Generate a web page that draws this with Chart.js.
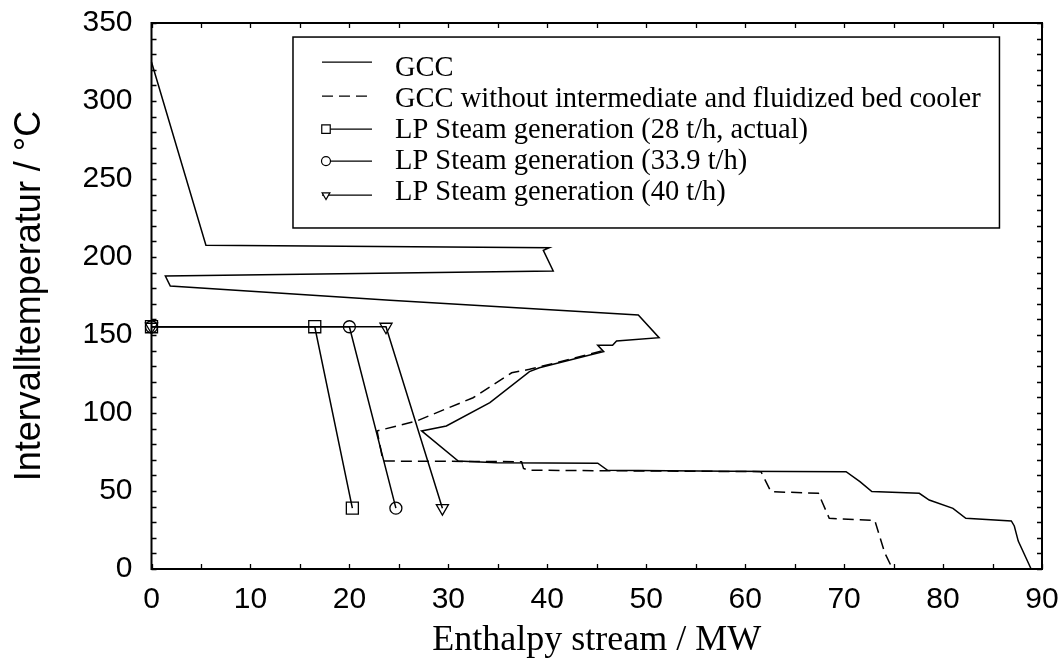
<!DOCTYPE html>
<html>
<head>
<meta charset="utf-8">
<title>GCC – LP steam generation</title>
<script src="https://cdn.jsdelivr.net/npm/chart.js@4.4.1/dist/chart.umd.min.js"></script>
<style>
  html, body { margin: 0; padding: 0; background: #fff; }
  #wrap { width: 1061px; height: 662px; }
</style>
</head>
<body>
<div id="wrap"><canvas id="gcc" width="1061" height="662"></canvas></div>
<script>
// Grand composite curve: enthalpy stream (MW) vs interval temperature (°C)
const gccH = [0, 5.5, 40.2, 39.6, 40.6, 1.4, 1.9, 24.1, 49.2, 51.3, 47.0, 46.6, 45.1, 45.7, 44.6, 39.2, 38.2,
              34.2, 29.8, 27.3, 31.0, 34.9, 45.1, 46.1, 58.4, 70.2, 71.6, 72.8, 77.6, 78.6, 81.0, 82.3,
              86.9, 87.2, 87.6, 88.9];
const gccT = [325, 207.5, 206, 204.3, 191, 187.8, 181.4, 172.2, 162.8, 148.3, 146.2, 143.4, 143.4, 139.3, 137.6, 129, 126.5,
              106.6, 91.7, 88.5, 69.2, 68.1, 67.8, 63.3, 62.6, 62.4, 56, 49.6, 48.5, 44.2, 38.9, 32.5,
              30.8, 27.6, 17.9, 0];

// GCC without intermediate and fluidized bed cooler (differs below ~140 °C)
const gccNoCoolH = [45.5, 41.6, 38.2, 36.4, 32.5, 26.8, 22.8, 23.4, 37.4, 37.6, 38.1, 61.6, 62.6, 67.4, 68.5, 73.1, 74.1, 74.9];
const gccNoCoolT = [139.8, 133.3, 128, 125.8, 109.8, 94.9, 88.5, 69.2, 68.8, 64.5, 63.3, 62.4, 49.6, 48.5, 32.5, 31.2, 10.5, 0];

// LP steam generation lines
const lp28H = [0, 16.5, 20.3];
const lp28T = [155.3, 155.3, 39];
const lp339H = [0, 20.0, 24.7];
const lp339T = [155.3, 155.3, 39];
const lp40H = [0, 23.7, 29.4];
const lp40T = [155.3, 155.3, 39];

const seriesLabels = [
  'GCC',
  'GCC without intermediate and fluidized bed cooler',
  'LP Steam generation (28 t/h, actual)',
  'LP Steam generation (33.9 t/h)',
  'LP Steam generation (40 t/h)'
];

const xTicks = [0, 10, 20, 30, 40, 50, 60, 70, 80, 90];
const yTicks = [0, 50, 100, 150, 200, 250, 300, 350];

function pts(h, t) {
  return h.map((x, i) => ({ x: x, y: t[i] }));
}

const ink = '#000';

function lineSet(label, data, extra) {
  return Object.assign({
    label: label,
    data: data,
    showLine: true,
    borderColor: ink,
    borderWidth: 1.5,
    backgroundColor: 'rgba(0,0,0,0)',
    pointRadius: 0,
    pointBorderColor: ink,
    pointBorderWidth: 1.3,
    pointBackgroundColor: 'rgba(0,0,0,0)',
    tension: 0,
    clip: false
  }, extra || {});
}

// inward ticks on all four sides + the frame
const framePlugin = {
  id: 'frame',
  afterDraw(chart) {
    const ctx = chart.ctx;
    const a = chart.chartArea;
    const xs = chart.scales.x, ys = chart.scales.y;
    ctx.save();
    ctx.strokeStyle = ink;
    ctx.lineWidth = 1.3;
    ctx.beginPath();
    for (let v = xs.min; v <= xs.max; v += 5) {
      const px = Math.round(xs.getPixelForValue(v)) + 0.5;
      ctx.moveTo(px, a.bottom); ctx.lineTo(px, a.bottom - 5);
      ctx.moveTo(px, a.top); ctx.lineTo(px, a.top + 5);
    }
    for (let v = ys.min; v <= ys.max; v += 10) {
      const py = Math.round(ys.getPixelForValue(v)) + 0.5;
      ctx.moveTo(a.left, py); ctx.lineTo(a.left + 5, py);
      ctx.moveTo(a.right, py); ctx.lineTo(a.right - 5, py);
    }
    ctx.stroke();
    ctx.lineWidth = 2;
    ctx.strokeRect(a.left, a.top, a.right - a.left, a.bottom - a.top);
    ctx.restore();
  }
};

// boxed legend inside the plot, upper right
const boxLegend = {
  id: 'boxLegend',
  afterDraw(chart) {
    const ctx = chart.ctx;
    const xs = chart.scales.x, ys = chart.scales.y;
    const left = xs.getPixelForValue(14.3), right = xs.getPixelForValue(85.7);
    const top = ys.getPixelForValue(341), bottom = ys.getPixelForValue(218.6);
    ctx.save();
    ctx.fillStyle = '#fff';
    ctx.fillRect(left, top, right - left, bottom - top);
    ctx.strokeStyle = ink;
    ctx.lineWidth = 1.5;
    ctx.strokeRect(left, top, right - left, bottom - top);

    const rowY = [68, 99, 130, 161, 192].map(v => top + (v - 37));
    const lineOff = [-6, -3, -1, 0, 3];
    const x0 = left + 29, x1 = left + 79, tx = left + 102;
    ctx.font = '28.5px "Liberation Serif", "Times New Roman", serif';
    ctx.textBaseline = 'middle';
    chart.data.datasets.forEach((ds, i) => {
      const ly = rowY[i] + lineOff[i];
      ctx.save();
      ctx.strokeStyle = ink;
      ctx.lineWidth = 1.3;
      ctx.setLineDash(ds.borderDash || []);
      ctx.beginPath();
      ctx.moveTo(x0, ly); ctx.lineTo(x1, ly);
      ctx.stroke();
      ctx.restore();
      if (ds.pointStyle) {
        ctx.save();
        ctx.fillStyle = '#fff';
        ctx.strokeStyle = ink;
        ctx.lineWidth = 1.2;
        Chart.helpers.drawPoint(ctx, {
          pointStyle: ds.pointStyle,
          rotation: ds.pointRotation || 0,
          radius: ds.pointStyle === 'rect' ? 6 : 4.5,
          borderWidth: 1.2
        }, x0 + 4, ly);
        ctx.restore();
      }
      ctx.fillStyle = ink;
      ctx.fillText(ds.label, tx, rowY[i]);
    });
    ctx.restore();
  }
};

const sans = '"Liberation Sans", Arial, Helvetica, sans-serif';
const serif = '"Liberation Serif", "Times New Roman", serif';

new Chart(document.getElementById('gcc'), {
  type: 'scatter',
  data: {
    datasets: [
      lineSet(seriesLabels[0], pts(gccH, gccT)),
      lineSet(seriesLabels[1], pts(gccNoCoolH, gccNoCoolT), { borderDash: [11, 6] }),
      lineSet(seriesLabels[2], pts(lp28H, lp28T), { pointStyle: 'rect', pointRadius: 8.5 }),
      lineSet(seriesLabels[3], pts(lp339H, lp339T), { pointStyle: 'circle', pointRadius: 6 }),
      lineSet(seriesLabels[4], pts(lp40H, lp40T), { pointStyle: 'triangle', pointRotation: 180, pointRadius: 7 })
    ]
  },
  options: {
    responsive: false,
    animation: false,
    devicePixelRatio: 1,
    layout: { padding: { top: 23, right: 19, left: 0, bottom: 0 } },
    plugins: {
      legend: { display: false },
      tooltip: { enabled: false }
    },
    scales: {
      x: {
        type: 'linear',
        min: 0,
        max: 90,
        afterBuildTicks: s => { s.ticks = xTicks.map(v => ({ value: v })); },
        afterFit: s => { s.height = 93; s.paddingLeft = 0; s.paddingRight = 0; },
        grid: { display: false },
        border: { display: false },
        ticks: { color: ink, font: { family: sans, size: 30 }, padding: 5, maxRotation: 0 },
        title: {
          display: true,
          text: 'Enthalpy stream / MW',
          color: ink,
          font: { family: serif, size: 36 },
          padding: { top: 0, bottom: 0 }
        }
      },
      y: {
        type: 'linear',
        min: 0,
        max: 350,
        afterBuildTicks: s => { s.ticks = yTicks.map(v => ({ value: v })); },
        afterFit: s => { s.width = 151.5; s.paddingTop = 0; s.paddingBottom = 0; },
        grid: { display: false },
        border: { display: false },
        ticks: { color: ink, font: { family: sans, size: 30 }, padding: 11 },
        title: {
          display: true,
          text: 'Intervalltemperatur / °C',
          color: ink,
          font: { family: sans, size: 36 },
          padding: { top: 8, bottom: 0 }
        }
      }
    }
  },
  plugins: [framePlugin, boxLegend]
});
</script>
</body>
</html>
